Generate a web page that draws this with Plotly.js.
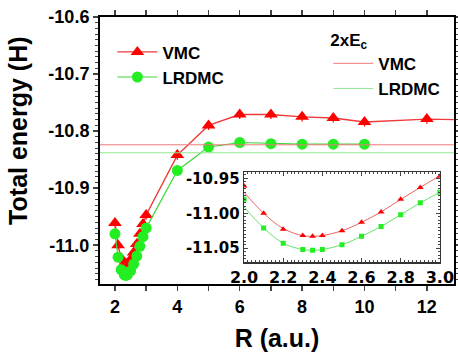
<!DOCTYPE html>
<html>
<head>
<meta charset="utf-8">
<script src="https://cdn.plot.ly/plotly-3.0.1.min.js"></script>
<style>html,body{margin:0;padding:0;background:#fff}#chart{width:458px;height:352px}</style>
</head>
<body>
<div id="chart"></div>
<script>
// ---- data ----
// near-equilibrium scan (shared by main plot and inset)
const rShort = [2.0, 2.1, 2.2, 2.3, 2.35, 2.4, 2.5, 2.6, 2.7, 2.8, 2.9, 3.0];
const vmcShort = [-10.961, -11.000, -11.023, -11.032, -11.033, -11.032, -11.025, -11.013, -10.998, -10.980, -10.963, -10.947];
const lrdmcShort = [-10.980, -11.021, -11.043, -11.052, -11.053, -11.052, -11.045, -11.033, -11.019, -11.002, -10.985, -10.970];
// long-range points
const rLongVMC = [4, 5, 6, 7, 8, 9, 10, 12, 14];
const vmcLong = [-10.842, -10.790, -10.771, -10.771, -10.775, -10.777, -10.784, -10.779, -10.781];
const rLongLRDMC = [4, 5, 6, 7, 8, 9, 10];
const lrdmcLong = [-10.869, -10.828, -10.820, -10.822, -10.823, -10.823, -10.823];
const vmcErr = 0.008;
// 2 x E_c reference energies
const twoEcVMC = -10.824;
const twoEcLRDMC = -10.838;
const refSpanR = [0, 20];
// inset fit curves
const fitR = [2.0, 2.1, 2.2, 2.3, 2.35, 2.4, 2.5, 2.6, 2.7, 2.8, 2.9, 3.0];
const vmcFit = [-10.970, -11.000, -11.022, -11.032, -11.033, -11.032, -11.025, -11.013, -10.998, -10.980, -10.963, -10.946];
const lrdmcFit = [-10.991, -11.021, -11.043, -11.052, -11.053, -11.052, -11.045, -11.033, -11.019, -11.002, -10.985, -10.970];
// tick labels
const yTickVals = [-10.6, -10.7, -10.8, -10.9, -11.0];
const yTickText = ['-10.6', '-10.7', '-10.8', '-10.9', '-11.0'];
const y2TickVals = [-10.95, -11.00, -11.05];
const y2TickText = ['-10.95', '-11.00', '-11.05'];
const seriesNames = ['VMC', 'LRDMC'];

const mainR_VMC = rShort.concat(rLongVMC);
const mainVMC = vmcShort.concat(vmcLong);
const mainR_LRDMC = rShort.concat(rLongLRDMC);
const mainLRDMC = lrdmcShort.concat(lrdmcLong);

const RED = '#ff0000', REDL = '#ee3a3a', GRN = '#22ee22', GRNL = '#3fd83f';
const FONT = 'Liberation Sans, Arial, sans-serif';
const IFONT = 'DejaVu Sans, sans-serif';

const traces = [
  {x: mainR_VMC, y: mainVMC, name: seriesNames[0], mode: 'lines+markers', legend: 'legend',
   line: {color: REDL, width: 1.4}, marker: {symbol: 'triangle-up', size: 12, color: RED},
   error_y: {type: 'constant', value: vmcErr, color: RED, thickness: 1.2, width: 0}},
  {x: mainR_LRDMC, y: mainLRDMC, name: seriesNames[1], mode: 'lines+markers', legend: 'legend',
   line: {color: GRNL, width: 1.2}, marker: {symbol: 'circle', size: 11, color: GRN}},
  {x: refSpanR, y: [twoEcVMC, twoEcVMC], name: seriesNames[0], mode: 'lines', legend: 'legend2',
   line: {color: '#f07a7a', width: 1}},
  {x: refSpanR, y: [twoEcLRDMC, twoEcLRDMC], name: seriesNames[1], mode: 'lines', legend: 'legend2',
   line: {color: '#8fe88f', width: 1}},
  {x: fitR, y: vmcFit, xaxis: 'x2', yaxis: 'y2', mode: 'lines', showlegend: false,
   line: {color: '#f06060', width: 1, shape: 'spline'}},
  {x: fitR, y: lrdmcFit, xaxis: 'x2', yaxis: 'y2', mode: 'lines', showlegend: false,
   line: {color: '#66e066', width: 1, shape: 'spline'}},
  {x: rShort, y: vmcShort, xaxis: 'x2', yaxis: 'y2', mode: 'markers', showlegend: false,
   marker: {symbol: 'triangle-up', size: 6, color: RED}},
  {x: rShort, y: lrdmcShort, xaxis: 'x2', yaxis: 'y2', mode: 'markers', showlegend: false,
   marker: {symbol: 'square', size: 5, color: GRN}}
];

const layout = {
  width: 458, height: 352,
  margin: {l: 100, r: 4, t: 17, b: 68},
  paper_bgcolor: '#fff', plot_bgcolor: '#fff',
  font: {family: FONT, color: '#000', weight: 'bold'},
  xaxis: {
    range: [1.52, 12.87], tick0: 2, dtick: 2, ticks: 'outside', ticklen: 5, tickwidth: 1.5,
    showline: true, linewidth: 2, linecolor: '#000', mirror: 'ticks',
    showgrid: false, zeroline: false,
    minor: {dtick: 1, tick0: 2, ticks: 'outside', ticklen: 5, tickwidth: 1.5},
    tickfont: {size: 18, family: FONT, weight: 'bold'},
    title: {text: 'R (a.u.)', font: {size: 25, family: FONT, weight: 'bold'}, standoff: 15}
  },
  yaxis: {
    range: [-11.068, -10.6], tickvals: yTickVals, ticktext: yTickText,
    ticks: 'outside', ticklen: 5, tickwidth: 1.5,
    showline: true, linewidth: 2, linecolor: '#000', mirror: 'ticks',
    showgrid: false, zeroline: false,
    minor: {dtick: 0.01, tick0: -10.6, ticks: 'outside', ticklen: 3, tickwidth: 1},
    tickfont: {size: 18, family: FONT, weight: 'bold'}
  },
  xaxis2: {
    domain: [0.407, 0.96], anchor: 'y2', range: [2.0, 3.0], dtick: 0.2, tick0: 2.0, tickformat: '.1f',
    ticks: 'inside', ticklen: 4, tickwidth: 1, showline: true, linewidth: 1.5, linecolor: '#333', mirror: 'ticks',
    showgrid: false, zeroline: false,
    minor: {dtick: 0.02, ticks: 'inside', ticklen: 2, tickwidth: 1},
    tickfont: {size: 16, family: IFONT, weight: 'bold'}
  },
  yaxis2: {
    domain: [0.082, 0.419], anchor: 'x2', range: [-11.07, -10.941],
    tickvals: y2TickVals, ticktext: y2TickText,
    ticks: 'inside', ticklen: 4, tickwidth: 1, showline: true, linewidth: 1.5, linecolor: '#333', mirror: 'ticks',
    showgrid: false, zeroline: false,
    minor: {dtick: 0.005, ticks: 'inside', ticklen: 2, tickwidth: 1},
    tickfont: {size: 15, family: IFONT, weight: 'bold'}
  },
  legend: {
    x: 0.035, y: 0.935, xanchor: 'left', yanchor: 'top', bgcolor: 'rgba(0,0,0,0)',
    font: {size: 17, family: FONT, weight: 'bold'}, tracegroupgap: 0, itemwidth: 40
  },
  legend2: {
    x: 0.645, y: 0.975, xanchor: 'left', yanchor: 'top', bgcolor: 'rgba(0,0,0,0)',
    font: {size: 17, family: FONT, weight: 'bold'}, itemwidth: 40,
    title: {text: '2xE<sub>c</sub>', font: {size: 17, family: FONT, weight: 'bold'}}
  },
  annotations: [{
    text: 'Total energy (H)', textangle: -90, xref: 'paper', yref: 'paper',
    x: -0.232, y: 0.573, xanchor: 'center', yanchor: 'middle', showarrow: false,
    font: {size: 25, family: FONT, weight: 'bold'}
  }]
};

Plotly.newPlot('chart', traces, layout, {displayModeBar: false, staticPlot: true});
</script>
</body>
</html>
